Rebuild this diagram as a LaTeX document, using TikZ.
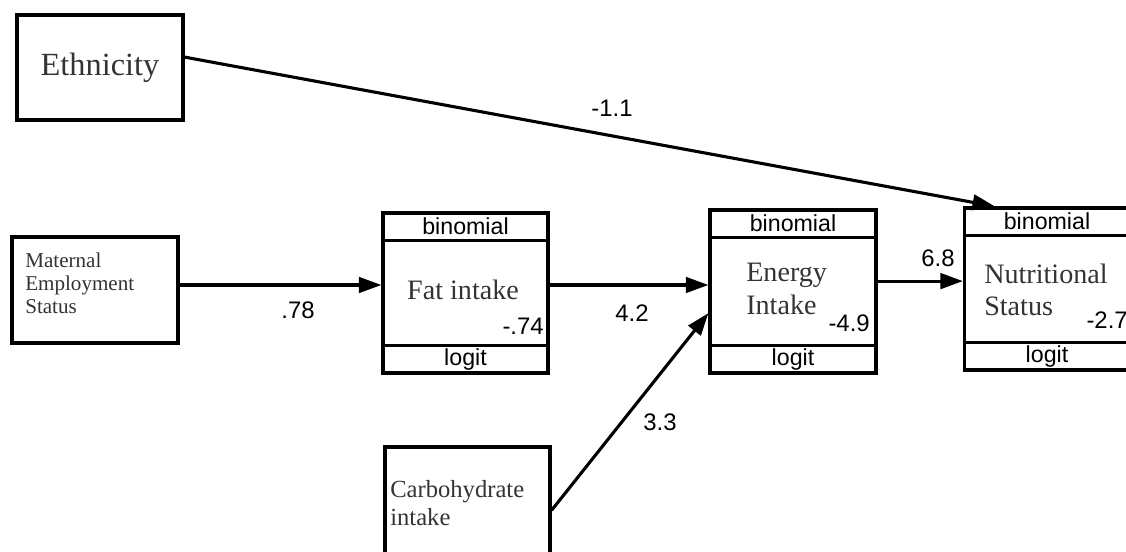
\documentclass[tikz,border=0pt]{standalone}
\usepackage{fontspec}
\setmainfont{Liberation Serif}
\newfontfamily\sansfam{Liberation Sans}
\usetikzlibrary{arrows.meta}

\begin{document}
\begin{tikzpicture}[x=0.025cm, y=-0.025cm,
  var/.style={draw, line width=2.2pt, inner sep=0pt, text=black!80},
  model/.style={var, minimum width=4.125cm, minimum height=4cm},
  strip/.style={draw, line width=2.2pt, minimum width=4.125cm, minimum height=0.68cm, inner sep=0pt, font=\sansfam\fontsize{16.5}{17}\selectfont},
  varlbl/.style={font=\fontsize{20}{23}\selectfont, text=black!80, align=left, inner sep=0pt},
  coef/.style={font=\sansfam\fontsize{17}{17}\selectfont, inner sep=0pt},
  arr/.style={line width=2.2pt, -{Triangle[length=16pt, width=11pt]}}]
\clip (0,0) rectangle (1126,552);

\node[var, minimum width=4.15cm, minimum height=2.625cm, font=\fontsize{23}{26}\selectfont] (eth) at (100,67.5) {Ethnicity};
\node[var, minimum width=4.15cm, minimum height=2.65cm] (mat) at (95,290) {};
\node[varlbl, anchor=west, font=\fontsize{15}{16.5}\selectfont] (matlbl) at (25,283) {Maternal\\Employment\\Status};
\node[var, minimum width=4.125cm, minimum height=2.825cm] (carb) at (467.5,503.5) {};
\node[varlbl, anchor=west, font=\fontsize{17.5}{19.5}\selectfont] (carblbl) at (390,503) {Carbohydrate\\intake};

\node[model] (fat) at (465.5,293) {};
\node[strip, anchor=north] (fatbin) at (fat.north) {binomial};
\node[strip, anchor=south] (fatlog) at (fat.south) {logit};
\node[varlbl] (fatlbl) at (463,290) {Fat intake};
\node[coef, anchor=east] (fatc) at (544,326) {-.74};

\node[model, minimum width=4.15cm, minimum height=4.075cm] (en) at (793,291.5) {};
\node[strip, minimum width=4.15cm, anchor=north] (enbin) at (en.north) {binomial};
\node[strip, minimum width=4.15cm, anchor=south] (enlog) at (en.south) {logit};
\node[varlbl, anchor=west] (enlbl) at (746,289) {Energy\\Intake};
\node[coef, anchor=east] (enc) at (870,323) {-4.9};

\node[model, minimum height=4.05cm] (nut) at (1047,289) {};
\node[strip, anchor=north] (nutbin) at (nut.north) {binomial};
\node[strip, anchor=south] (nutlog) at (nut.south) {logit};
\node[varlbl, anchor=west] (nutlbl) at (984,290) {Nutritional\\Status};
\node[coef, anchor=east] (nutc) at (1128,320) {-2.7};

\draw[arr] ([yshift=0.26cm]eth.east) -- ([xshift=-1.3cm]nut.north);
\draw[arr] ([yshift=0.125cm]mat.east) -- ([yshift=0.125cm]mat.east -| fat.west);
\draw[arr] ([yshift=0.2cm]fat.east) -- ([yshift=0.2cm]fat.east -| en.west);
\draw[arr] ([yshift=-0.17cm]carb.east) -- ([yshift=-0.54cm]en.west);
\draw[arr] ([yshift=0.26cm]en.east) -- ([yshift=0.26cm]en.east -| nut.west);

\node[coef] (eth2nut) at (612,108) {-1.1};
\node[coef] (mat2fat) at (298,310) {.78};
\node[coef] (fat2en) at (632,313) {4.2};
\node[coef] (carb2en) at (660,422) {3.3};
\node[coef] (en2nut) at (938,258) {6.8};
\end{tikzpicture}
\end{document}
